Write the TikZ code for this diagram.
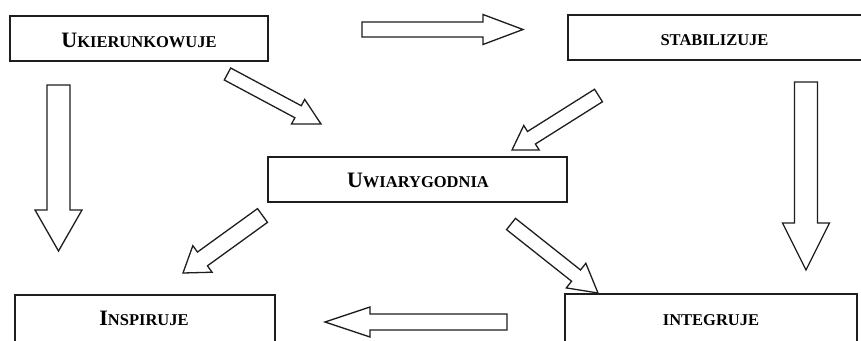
\documentclass[tikz,border=0pt]{standalone}
\usepackage{fontspec}
\setmainfont{Liberation Serif}
\usetikzlibrary{calc}
\definecolor{ink}{HTML}{1E1E1E}
\newcommand\bigc[1]{{\fontsize{22}{22}\selectfont #1}}
\newcommand\blockarrow[5]{%
  \coordinate (hb) at ($(#2)!#5!(#1)$);
  \draw[barrow] ($(#1)!#3!90:(#2)$) -- ($(hb)!#3!-90:(#1)$) -- ($(hb)!#4!-90:(#1)$) -- (#2)
    -- ($(hb)!#4!90:(#1)$) -- ($(hb)!#3!90:(#1)$) -- ($(#1)!#3!-90:(#2)$) -- cycle;
}
\tikzset{
  box/.style={draw=ink, line width=1.8pt, fill=white, inner sep=0pt},
  lbl/.style={anchor=base, inner sep=0pt, text=black,
    font=\fontsize{16.5}{18}\selectfont\bfseries},
  barrow/.style={draw=ink, line width=1.3pt, fill=white, line join=miter},
}
\begin{document}
\begin{tikzpicture}[x=1pt,y=-1pt]
\useasboundingbox (0,0) rectangle (861,340);
\clip (0,0) rectangle (861,340);
\fill[white] (0,0) rectangle (861,340);
% boxes
\node[box, minimum width=258pt, minimum height=45pt] (ukbox) at (139,38.5) {};
\node[box, minimum width=300pt, minimum height=45pt] (stbox) at (718,37.5) {};
\node[box, minimum width=299pt, minimum height=45pt] (uwbox) at (417.5,179.5) {};
\node[box, minimum width=260pt, minimum height=56pt] (inbox) at (145,323) {};
\node[box, minimum width=292pt, minimum height=56pt] (itbox) at (711,322) {};
% labels
\node[lbl] (uk) at (139,47) {\bigc{U}KIERUNKOWUJE};
\node[lbl] (st) at (714.5,45.5) {STABILIZUJE};
\node[lbl] (uw) at (418,187) {\bigc{U}WIARYGODNIA};
\node[lbl] (in) at (144,325.5) {\bigc{I}NSPIRUJE};
\node[lbl] (it) at (711,325.5) {INTEGRUJE};
% arrow end points
\coordinate (a1s) at (362,29.5);   \coordinate (a1e) at (523,29.5);
\coordinate (a2s) at (58.5,85);    \coordinate (a2e) at (58.5,251);
\coordinate (a3s) at (806,82);     \coordinate (a3e) at (806,270);
\coordinate (a4s) at (227.5,74);   \coordinate (a4e) at (321,124);
\coordinate (a5s) at (598.5,95.5); \coordinate (a5e) at (512,150);
\coordinate (a6s) at (262.5,215.5);\coordinate (a6e) at (183,273);
\coordinate (a7s) at (511,224);    \coordinate (a7e) at (598,293);
\coordinate (a8s) at (507,322);    \coordinate (a8e) at (325,322);
% arrows
\blockarrow{a1s}{a1e}{7.5pt}{15pt}{40pt}
\blockarrow{a2s}{a2e}{11.5pt}{23.5pt}{41pt}
\blockarrow{a3s}{a3e}{11.5pt}{23.5pt}{47pt}
\blockarrow{a4s}{a4e}{6.8pt}{14pt}{26pt}
\blockarrow{a5s}{a5e}{7.4pt}{14.5pt}{23pt}
\blockarrow{a6s}{a6e}{8.5pt}{16.4pt}{24pt}
\blockarrow{a7s}{a7e}{7.2pt}{15.7pt}{28pt}
\blockarrow{a8s}{a8e}{8pt}{15pt}{45pt}
\end{tikzpicture}
\end{document}
